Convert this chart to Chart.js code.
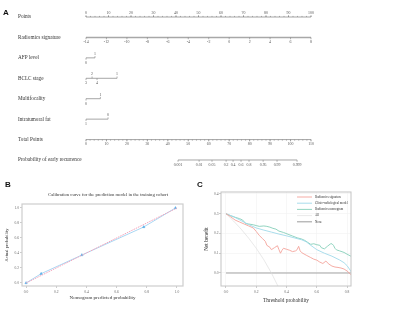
<!DOCTYPE html>
<html><head><meta charset="utf-8">
<script src="https://cdn.jsdelivr.net/npm/chart.js@4.4.1/dist/chart.umd.min.js"></script>
<style>
html,body{margin:0;padding:0;background:#fff;width:400px;height:319px;overflow:hidden;position:relative}
.box{position:absolute}
.lbl{position:absolute;font:bold 8px "Liberation Sans",Arial,sans-serif;line-height:8px;color:#111}
</style></head><body>
<div class="box" style="left:0;top:0;width:400px;height:175px"><canvas id="cA" width="400" height="175"></canvas></div>
<div class="box" style="left:0;top:175px;width:200px;height:144px"><canvas id="cB" width="200" height="144"></canvas></div>
<div class="box" style="left:200px;top:175px;width:200px;height:144px"><canvas id="cC" width="200" height="144"></canvas></div>
<div class="lbl" style="left:3px;top:9px">A</div>
<div class="lbl" style="left:5px;top:181px">B</div>
<div class="lbl" style="left:197px;top:181px">C</div>
<script>
// ---------- Panel A: nomogram ----------
const rowNames = ['Points','Radiomics signature','AFP level','BCLC stage','Multifocality','Intratumoral fat','Total Points','Probability of early recurrence'];
const pointsTicks = [0,10,20,30,40,50,60,70,80,90,100];
const radiomicsTicks = [-14,-12,-10,-8,-6,-4,-2,0,2,4,6,8];
const afpLevels = ['0','1'];            const afpPoints = [0,4];
const bclcLevels = ['3','2','4','1'];   const bclcPoints = [0,2.7,4.9,13.8];
const multiLevels = ['0','1'];          const multiPoints = [0,6.4];
const fatLevels = ['1','0'];            const fatPoints = [0,9.8];
const totalTicks = [0,10,20,30,40,50,60,70,80,90,100,110];
const probTicks = ['0.001','0.01','0.05','0.2','0.4','0.6','0.8','0.95','0.99','0.999'];
const probTotalPoints = [45.0,55.3,61.6,68.5,71.9,75.8,79.7,86.6,93.4,103.2];

const radMin = radiomicsTicks[0], radMax = radiomicsTicks[radiomicsTicks.length-1];
const totalMax = totalTicks[totalTicks.length-1];
function steps(a,b,s){const r=[];for(let v=a;v<=b+1e-9;v+=s)r.push(v);return r;}
function catRow(levels,pts){return {ticks: levels.map((l,i)=>({p:pts[i],t:l,side:i%2===0?1:-1})), minor:[]};}
const nomoRows = [
  {ticks: pointsTicks.map(v=>({p:v,t:String(v),side:-1})), minor: steps(0,100,2), minorDir:-1},
  {ticks: radiomicsTicks.map(v=>({p:(v-radMin)/(radMax-radMin)*100,t:String(v),side:1})), minor:[], thick:true},
  catRow(afpLevels,afpPoints),
  catRow(bclcLevels,bclcPoints),
  catRow(multiLevels,multiPoints),
  catRow(fatLevels,fatPoints),
  {ticks: totalTicks.map(v=>({p:v/totalMax*100,t:String(v),side:1})), minor: steps(0,totalMax,2).map(v=>v/totalMax*100), minorDir:1},
  {ticks: probTicks.map((t,i)=>({p:probTotalPoints[i]/totalMax*100,t:t,side:1})), minor:[]}
];

const nomoPlugin = {
  id:'nomo',
  afterDatasetsDraw(chart){
    const {ctx, scales:{x,y}} = chart;
    ctx.save();
    ctx.strokeStyle='#808080'; ctx.lineWidth=0.6; ctx.fillStyle='#555';
    ctx.font='3.9px "Liberation Serif"'; ctx.textAlign='center'; ctx.textBaseline='middle';
    nomoRows.forEach((row,i)=>{
      const py = y.getPixelForValue(i);
      row.minor.forEach(p=>{const px=x.getPixelForValue(p);ctx.beginPath();ctx.moveTo(px,py);ctx.lineTo(px,py+row.minorDir*1.1);ctx.stroke();});
      row.ticks.forEach(tk=>{
        const px=x.getPixelForValue(tk.p), d=tk.side;
        ctx.beginPath();ctx.moveTo(px,py);ctx.lineTo(px,py+d*1.8);ctx.stroke();
        ctx.fillText(tk.t, px, py + (d<0?-4.2:4.8));
      });
    });
    ctx.restore();
  }
};

new Chart(document.getElementById('cA'),{
  type:'scatter',
  data:{datasets: nomoRows.map((row,i)=>{
    const ps=row.ticks.map(t=>t.p);
    return {data:[{x:Math.min(...ps),y:rowNames[i]},{x:Math.max(...ps),y:rowNames[i]}],showLine:true,pointRadius:0,
      borderColor: row.thick?'#a8a8a8':'#808080', borderWidth: row.thick?1.6:0.7};
  })},
  options:{
    responsive:false, animation:false, devicePixelRatio:1,
    layout:{padding:{left:18,right:89,top:6.8,bottom:4.8}},
    plugins:{legend:{display:false},tooltip:{enabled:false}},
    scales:{
      x:{type:'linear',min:0,max:100,display:false},
      y:{type:'category',labels:rowNames,offset:true,
         grid:{display:false,drawTicks:false},border:{display:false},
         ticks:{crossAlign:'far',padding:0,autoSkip:false,font:{family:'Liberation Serif',size:5.2},color:'#333'},
         afterFit:s=>{s.width=68;}}
    }
  },
  plugins:[nomoPlugin]
});

// ---------- Panel B: calibration ----------
const calPredicted = [0.0,0.10,0.37,0.78,0.99];
const calActual = [0.0,0.124,0.373,0.747,1.0];
const idealLine = [0,1];
const calTicks = [0,0.2,0.4,0.6,0.8,1.0];

const boxPlugin = {
  id:'box',
  afterDraw(chart,args,opts){
    const {ctx,chartArea:a}=chart; ctx.save(); ctx.strokeStyle=opts.color; ctx.lineWidth=opts.width;
    ctx.strokeRect(a.left,a.top,a.right-a.left,a.bottom-a.top); ctx.restore();
  }
};
const textPlugin = {
  id:'txt',
  afterDraw(chart,args,opts){
    if(!opts.text) return;
    const {ctx}=chart; ctx.save(); ctx.fillStyle='#333'; ctx.font=opts.font; ctx.textAlign='center'; ctx.textBaseline='middle';
    ctx.fillText(opts.text, opts.x, opts.y); ctx.restore();
  }
};
function fixedTicks(vals){return s=>{s.ticks=vals.map(v=>({value:v}));};}
const tickFont = {family:'Liberation Serif',size:3.6};

new Chart(document.getElementById('cB'),{
  type:'scatter',
  data:{datasets:[
    {label:'Ideal',data:idealLine.map(v=>({x:v,y:v})),showLine:true,borderColor:'#f3a6bd',borderDash:[1.6,0.9],borderWidth:1,pointRadius:0},
    {label:'Apparent',data:calPredicted.map((v,i)=>({x:v,y:calActual[i]})),showLine:true,borderColor:'#a9d7f3',borderWidth:1,
     pointStyle:'triangle',pointRadius:1.4,pointBackgroundColor:'#5aaee6',pointBorderColor:'#5aaee6',pointBorderWidth:0.5}
  ]},
  options:{
    responsive:false, animation:false, devicePixelRatio:1,
    layout:{padding:{left:0,right:17,top:29,bottom:0}},
    plugins:{legend:{display:false},tooltip:{enabled:false},
      box:{color:'#cdcdcd',width:1.2},
      txt:{text:'Calibration curve for the prediction model in the training cohort',x:108,y:20,font:'4.7px "Liberation Serif"'}},
    scales:{
      x:{type:'linear',min:-0.027,max:1.04,afterBuildTicks:fixedTicks(calTicks),
         grid:{drawOnChartArea:false,tickLength:2,color:'#aaa',lineWidth:0.6},border:{display:false},
         ticks:{font:tickFont,color:'#666',padding:1.5,callback:v=>v.toFixed(1)},
         title:{display:true,text:'Nomogram predicted probability',font:{family:'Liberation Serif',size:5},color:'#333',padding:{top:0,bottom:18}},
         afterFit:s=>{s.height=33;}},
      y:{type:'linear',min:-0.04,max:1.053,afterBuildTicks:fixedTicks(calTicks),
         grid:{drawOnChartArea:false,tickLength:2,color:'#aaa',lineWidth:0.6},border:{display:false},
         ticks:{font:tickFont,color:'#666',padding:1,callback:v=>v.toFixed(1)},
         title:{display:true,text:'Actual probability',font:{family:'Liberation Serif',size:4.5},color:'#333',padding:{top:4.3,bottom:0}},
         afterFit:s=>{s.width=22;}}
    }
  },
  plugins:[boxPlugin,textPlugin]
});

// ---------- Panel C: decision curve ----------
const rsThreshold = [0,0.03,0.06,0.09,0.12,0.15,0.18,0.2,0.22,0.24,0.26,0.27,0.29,0.3,0.32,0.34,0.35,0.36,0.37,0.38,0.4,0.42,0.44,0.46,0.47,0.48,0.49,0.5,0.53,0.56,0.58,0.6,0.62,0.64,0.66,0.68,0.7,0.72,0.74,0.76,0.78,0.8,0.83];
const rsNetBenefit = [0.30,0.285,0.268,0.258,0.248,0.238,0.228,0.21,0.19,0.175,0.16,0.14,0.13,0.118,0.128,0.138,0.118,0.1,0.115,0.125,0.12,0.115,0.108,0.112,0.118,0.135,0.112,0.103,0.09,0.078,0.07,0.065,0.055,0.048,0.06,0.045,0.035,0.03,0.028,0.025,0.02,0.01,-0.012];
const crThreshold = [0,0.05,0.1,0.15,0.2,0.25,0.3,0.35,0.4,0.45,0.5,0.53,0.56,0.6,0.65,0.7,0.75,0.78,0.8,0.82,0.83];
const crNetBenefit = [0.30,0.285,0.265,0.245,0.228,0.217,0.207,0.197,0.188,0.178,0.168,0.158,0.14,0.118,0.1,0.085,0.066,0.052,0.037,0.015,0.003];
const rnThreshold = [0,0.03,0.06,0.09,0.11,0.13,0.15,0.18,0.2,0.22,0.25,0.27,0.29,0.31,0.33,0.35,0.38,0.41,0.44,0.47,0.5,0.52,0.54,0.56,0.58,0.6,0.62,0.63,0.65,0.67,0.69,0.7,0.71,0.72,0.73,0.75,0.78,0.8,0.83];
const rnNetBenefit = [0.30,0.29,0.282,0.275,0.268,0.25,0.248,0.244,0.24,0.236,0.238,0.236,0.232,0.226,0.222,0.212,0.205,0.196,0.187,0.178,0.172,0.165,0.155,0.145,0.148,0.143,0.14,0.128,0.122,0.135,0.147,0.148,0.14,0.125,0.117,0.112,0.104,0.095,0.083];
const allThreshold = [0,0.05,0.1,0.15,0.2,0.25,0.3,0.35];
const allNetBenefit = [0.30,0.263,0.222,0.176,0.125,0.067,0.0,-0.077];
const noneThreshold = [0,0.83];
const noneNetBenefit = [0,0];
const dcaXTicks = [0,0.2,0.4,0.6,0.8];
const dcaYTicks = [0,0.1,0.2,0.3,0.4];

function pts(xs,ys){return xs.map((v,i)=>({x:v,y:ys[i]}));}
const legendPlugin = {
  id:'dcaLegend',
  afterDatasetsDraw(chart){
    const {ctx,chartArea:a}=chart; ctx.save();
    ctx.font='3.2px "Liberation Serif"'; ctx.textBaseline='middle'; ctx.textAlign='left';
    chart.data.datasets.forEach((ds,i)=>{
      const yy=a.top+5+i*6.2, x0=a.right-54;
      ctx.strokeStyle=ds.borderColor; ctx.lineWidth=ds.borderWidth;
      ctx.beginPath(); ctx.moveTo(x0,yy); ctx.lineTo(x0+15,yy); ctx.stroke();
      ctx.fillStyle='#333'; ctx.fillText(ds.label,x0+18,yy);
    });
    ctx.restore();
  }
};
new Chart(document.getElementById('cC'),{
  type:'scatter',
  data:{datasets:[
    {label:'Radiomics signature',data:pts(rsThreshold,rsNetBenefit),borderColor:'#f4a39b',borderWidth:0.9},
    {label:'Clinic-radiological model',data:pts(crThreshold,crNetBenefit),borderColor:'#9fd9ea',borderWidth:0.9},
    {label:'Radiomics nomogram',data:pts(rnThreshold,rnNetBenefit),borderColor:'#86cfb9',borderWidth:0.9},
    {label:'All',data:pts(allThreshold,allNetBenefit),borderColor:'#dadada',borderWidth:0.6},
    {label:'None',data:pts(noneThreshold,noneNetBenefit),borderColor:'#a3a3a3',borderWidth:1.1}
  ].map(d=>Object.assign(d,{showLine:true,pointRadius:0,tension:0}))},
  options:{
    responsive:false, animation:false, devicePixelRatio:1,
    layout:{padding:{left:0,right:49,top:17,bottom:0}},
    plugins:{legend:{display:false},tooltip:{enabled:false},box:{color:'#c4c4c4',width:1}},
    scales:{
      x:{type:'linear',min:-0.033,max:0.826,afterBuildTicks:fixedTicks(dcaXTicks),
         grid:{color:'#f1f1f1',lineWidth:0.6,tickLength:2,tickColor:'#aaa'},border:{display:false},
         ticks:{font:tickFont,color:'#666',padding:1.5,callback:v=>v.toFixed(1)},
         title:{display:true,text:'Threshold probability',font:{family:'Liberation Serif',size:5.3},color:'#333',padding:{top:0,bottom:15.7}},
         afterFit:s=>{s.height=33;}},
      y:{type:'linear',min:-0.066,max:0.41,afterBuildTicks:fixedTicks(dcaYTicks),
         grid:{color:'#f1f1f1',lineWidth:0.6,tickLength:2,tickColor:'#aaa'},border:{display:false},
         ticks:{font:tickFont,color:'#666',padding:0.5,callback:v=>v.toFixed(1)},
         title:{display:true,text:'Net benefit',font:{family:'Liberation Serif',size:5.3},color:'#333',padding:{top:3.7,bottom:0}},
         afterFit:s=>{s.width=21;}}
    }
  },
  plugins:[boxPlugin,legendPlugin]
});
</script>
</body></html>
